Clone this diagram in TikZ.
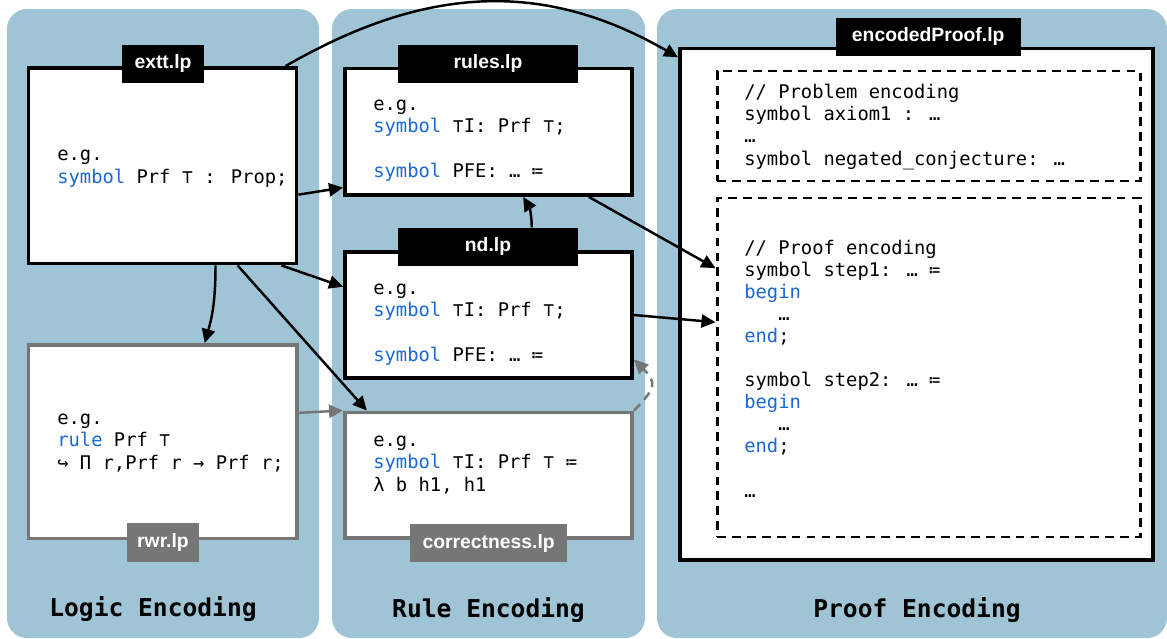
\documentclass[tikz,border=0pt]{standalone}
\usepackage{fontspec}
\usetikzlibrary{arrows.meta,fit}
\newfontfamily\codefont{DejaVu Sans Mono}
\newfontfamily\tagfont{Liberation Sans}
\definecolor{panelblue}{RGB}{158,196,213}
\definecolor{kwblue}{RGB}{28,104,214}
\definecolor{filegray}{RGB}{118,118,118}
\newcommand{\kw}[1]{\textcolor{kwblue}{#1}}
\begin{document}
\begin{tikzpicture}[x=0.02cm,y=-0.02cm]
 \tikzset{directed/.style={-{Triangle[length=8pt,width=7.5pt]}, line width=1.4pt}}
 \tikzset{panel/.style={fill=panelblue, rounded corners=0.4cm}}
 \tikzset{filebox/.style={draw, line width=2.2pt, fill=white, inner sep=0pt}}
 \tikzset{partbox/.style={draw, line width=1.7pt, dash pattern=on 5pt off 3.5pt, inner sep=0pt}}
 \tikzset{tag/.style={fill=black, text=white, inner sep=0pt, minimum height=0.766cm, font=\tagfont\bfseries\fontsize{11}{13}\selectfont}}
 \tikzset{code/.style={anchor=base west, align=left, inner sep=0pt, font=\codefont\fontsize{10.7}{12.53}\selectfont}}
 \tikzset{title/.style={anchor=base, inner sep=0pt, font=\codefont\bfseries\fontsize{14}{16}\selectfont}}
  \useasboundingbox (0,0) rectangle (1167,639);
  % the three encodings
  \fill[panel] (7,9) rectangle (319,638);
  \fill[panel] (332,9) rectangle (645,638);
  \fill[panel] (657,9) rectangle (1167,638);
  \node[title] (logic) at (153,616) {Logic Encoding};
  \node[title] (rule) at (488.5,617) {Rule Encoding};
  \node[title] (proofenc) at (917,617) {Proof Encoding};
  % files
  \node[filebox, fit={(28.5,68) (296.5,263.5)}] (extt) {};
  \node[filebox, fit={(345,68.5) (632,195)}] (rules) {};
  \node[filebox, fit={(345,252) (632,378)}] (nd) {};
  \node[filebox, draw=filegray, fit={(28.5,345) (297,538.5)}] (rwr) {};
  \node[filebox, draw=filegray, fit={(345,412.5) (632,538)}] (corr) {};
  \node[filebox, fit={(680,48.5) (1153,560)}] (proof) {};
  \node[partbox, fit={(717,71) (1140,181)}] (problem) {};
  \node[partbox, fit={(717,198) (1140,537)}] (steps) {};
  % file names
  \node[tag, minimum width=1.646cm] (extttag) at (163,64) {extt.lp};
  \node[tag, minimum width=3.6cm] (rulestag) at (488,64) {rules.lp};
  \node[tag, minimum width=3.6cm] (ndtag) at (488,246.8) {nd.lp};
  \node[tag, fill=filegray, minimum width=1.452cm] (rwrtag) at (163,542.4) {rwr.lp};
  \node[tag, fill=filegray, minimum width=3.146cm] (corrtag) at (488.7,543) {correctness.lp};
  \node[tag, minimum width=3.7cm] (prooftag) at (928.2,36.9) {encodedProof.lp};
  % contents (placed at the baseline of their last line)
  \node[code] (exttcode) at (57,183) {e.g.\\\kw{symbol} Prf ⊤ : Prop;};
  \node[code] (rulescode) at (373,177) {e.g.\\\kw{symbol} ⊤I: Prf ⊤;\\[12.53pt]\kw{symbol} PFE: … ≔};
  \node[code] (ndcode) at (373,361) {e.g.\\\kw{symbol} ⊤I: Prf ⊤;\\[12.53pt]\kw{symbol} PFE: … ≔};
  \node[code] (rwrcode) at (57,469) {e.g.\\\kw{rule} Prf ⊤\\↪ Π r,Prf r → Prf r;};
  \node[code] (corrcode) at (373,491) {e.g.\\\kw{symbol} ⊤I: Prf ⊤ ≔\\λ b h1, h1};
  \node[code] (problemcode) at (744,165) {// Problem encoding\\symbol axiom1 : …\\…\\symbol negated\_conjecture: …};
  \node[code] (stepscode) at (744,497) {// Proof encoding\\symbol step1: … ≔\\\kw{begin}\\\phantom{xxx}…\\\kw{end};\\[12.53pt]symbol step2: … ≔\\\kw{begin}\\\phantom{xxx}…\\\kw{end};\\[12.53pt]…};
  % dependencies
  \draw[directed] (extt.39) to[out=30,in=150,looseness=1.03] (proof.134);
  \draw[directed] (extt.-12) -- (rules.-159);
  \draw[directed] (extt.-40) -- (nd.169);
  \draw[directed] (extt.-62) to[bend left=8] (rwr.67);
  \draw[directed] (extt.-53) -- (corr.152);
  \draw[directed] (ndtag.24) to[bend right=15] (rules.-62);
  \draw[directed] (rules.-33) -- (steps.155);
  \draw[directed] (nd.east) -- (steps.168);
  \draw[directed, filegray] (rwr.12) -- (corr.north west);
  \draw[directed, filegray, dash pattern=on 5pt off 3.5pt] (corr.north east) to[out=45,in=-45,looseness=1.6] (nd.-17);
\end{tikzpicture}
\end{document}
